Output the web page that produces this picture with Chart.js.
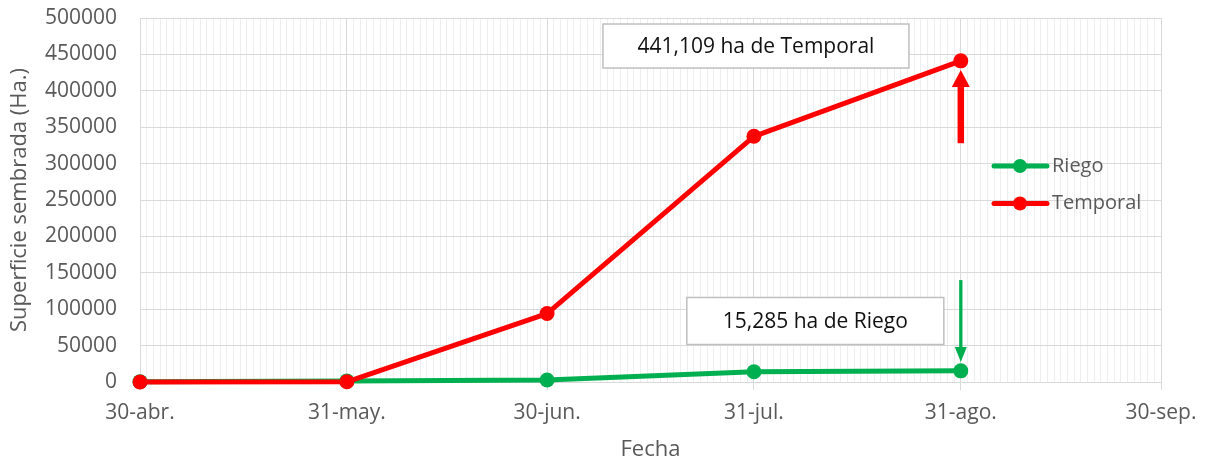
<!DOCTYPE html>
<html lang="es">
<head>
<meta charset="utf-8">
<script src="https://cdn.jsdelivr.net/npm/chart.js@4.4.0/dist/chart.umd.min.js"></script>
<style>
  html, body { margin: 0; padding: 0; background: #fff; }
  #wrap { width: 1211px; height: 463px; }
</style>
</head>
<body>
<div id="wrap"><canvas id="lineChart"></canvas></div>
<script>
// ---------------- DATOS -----------------------------
const fechas = ["2023-04-30", "2023-05-31", "2023-06-30", "2023-07-31", "2023-08-31"];
const riego = [500, 1500, 2700, 14000, 15285];
const temporal = [0, 300, 94000, 337500, 441109];

const tickFechas = ["2023-04-30", "2023-05-31", "2023-06-30", "2023-07-31", "2023-08-31", "2023-09-30"];
const tickLabels = ["30-abr.", "31-may.", "30-jun.", "31-jul.", "31-ago.", "30-sep."];
const yMax = 500000;
const yStep = 50000;

// dias desde el inicio del eje
const inicio = Date.parse(tickFechas[0]);
const dia = (s) => Math.round((Date.parse(s) - inicio) / 86400000);
const tickDias = tickFechas.map(dia);
const ultimoDia = tickDias[tickDias.length - 1];

const FONT = "'Open Sans', sans-serif";
const GRIS = "#595959";

// ---------------- ANOTACIONES -----------------------------
const flechas = [
  { fecha: "2023-08-31", desde: 328000, hasta: 428500, color: "#ff0000", ancho: 6.5, punta: 18, largo: 17 },
  { fecha: "2023-08-31", desde: 140000, hasta: 27500, color: "#00b050", ancho: 3.3, punta: 12, largo: 15 },
];
const cajas = [
  { texto: "441,109 ha de Temporal", dia: 92.3, valor: 461500, w: 306, h: 44 },
  { texto: "15,285 ha de Riego", dia: 101.2, valor: 83800, w: 257, h: 47 },
];

const anotaciones = {
  id: "anotaciones",
  afterDatasetsDraw(chart) {
    const { ctx, scales: { x, y } } = chart;
    ctx.save();
    flechas.forEach((f) => {
      const px = x.getPixelForValue(dia(f.fecha));
      const y0 = y.getPixelForValue(f.desde);
      const y1 = y.getPixelForValue(f.hasta);
      const dir = y1 < y0 ? 1 : -1;
      ctx.strokeStyle = f.color;
      ctx.fillStyle = f.color;
      ctx.lineWidth = f.ancho;
      ctx.beginPath();
      ctx.moveTo(px, y0);
      ctx.lineTo(px, y1 + dir * f.largo);
      ctx.stroke();
      ctx.beginPath();
      ctx.moveTo(px, y1);
      ctx.lineTo(px - f.punta / 2, y1 + dir * f.largo);
      ctx.lineTo(px + f.punta / 2, y1 + dir * f.largo);
      ctx.closePath();
      ctx.fill();
    });
    cajas.forEach((c) => {
      const cx = x.getPixelForValue(c.dia);
      const cy = y.getPixelForValue(c.valor);
      ctx.fillStyle = "#ffffff";
      ctx.fillRect(cx - c.w / 2, cy - c.h / 2, c.w, c.h);
      ctx.strokeStyle = "#bfbfbf";
      ctx.lineWidth = 1.5;
      ctx.strokeRect(cx - c.w / 2, cy - c.h / 2, c.w, c.h);
      ctx.fillStyle = "#111111";
      ctx.font = "21px " + FONT;
      ctx.textAlign = "center";
      ctx.textBaseline = "middle";
      ctx.fillText(c.texto, cx, cy + 1);
    });
    ctx.restore();
  },
};

// leyenda dentro del area del grafico
const leyenda = {
  id: "leyenda",
  afterDraw(chart) {
    const { ctx } = chart;
    ctx.save();
    chart.data.datasets.forEach((ds, i) => {
      const yy = 166 + i * 37.5;
      ctx.strokeStyle = ds.borderColor;
      ctx.lineWidth = 5;
      ctx.lineCap = "round";
      ctx.beginPath();
      ctx.moveTo(994, yy);
      ctx.lineTo(1047, yy);
      ctx.stroke();
      ctx.fillStyle = ds.borderColor;
      ctx.beginPath();
      ctx.arc(1020, yy, 7, 0, Math.PI * 2);
      ctx.fill();
      ctx.fillStyle = GRIS;
      ctx.font = "20px " + FONT;
      ctx.textAlign = "left";
      ctx.textBaseline = "middle";
      ctx.fillText(ds.label, 1052, yy);
    });
    ctx.restore();
  },
};

// ---------------- CHART JS -----------------------------
const lineChartData = {
  datasets: [
    {
      label: "Riego",
      data: fechas.map((f, i) => ({ x: dia(f), y: riego[i] })),
      borderColor: "#00b050",
      backgroundColor: "#00b050",
      order: 1,
    },
    {
      label: "Temporal",
      data: fechas.map((f, i) => ({ x: dia(f), y: temporal[i] })),
      borderColor: "#ff0000",
      backgroundColor: "#ff0000",
      order: 0,
    },
  ],
};

const lineChartConfig = {
  type: "line",
  data: lineChartData,
  options: {
    responsive: true,
    maintainAspectRatio: false,
    animation: false,
    layout: { padding: { top: 18, right: 50, left: 0, bottom: 0 } },
    elements: {
      line: { borderWidth: 5, tension: 0, borderJoinStyle: "round" },
      point: { radius: 7.5, hoverRadius: 7.5, borderWidth: 0 },
    },
    datasets: { line: { clip: false } },
    plugins: {
      legend: { display: false },
      tooltip: { enabled: false },
    },
    scales: {
      x: {
        type: "linear",
        min: 0,
        max: ultimoDia,
        afterBuildTicks: (scale) => {
          const t = [];
          for (let d = 0; d <= ultimoDia; d++) t.push({ value: d });
          scale.ticks = t;
        },
        afterFit: (scale) => { scale.height = 81; },
        grid: {
          color: (c) => (tickDias.includes(c.tick && c.tick.value) ? "#d9d9d9" : "#eeeeee"),
          tickColor: (c) => (tickDias.includes(c.tick && c.tick.value) ? "#d9d9d9" : "rgba(0,0,0,0)"),
          tickLength: 8,
        },
        border: { color: "#d9d9d9" },
        ticks: {
          autoSkip: false,
          maxRotation: 0,
          padding: 10,
          color: GRIS,
          font: { family: FONT, size: 21 },
          callback: (v) => {
            const k = tickDias.indexOf(v);
            return k >= 0 ? tickLabels[k] : "";
          },
        },
        title: {
          display: true,
          text: "Fecha",
          color: GRIS,
          font: { family: FONT, size: 22 },
          padding: { top: 0, bottom: 0 },
        },
      },
      y: {
        min: 0,
        max: yMax,
        afterFit: (scale) => {
          scale.width = 140;
          scale.paddingTop = 0;
          scale.paddingBottom = 0;
        },
        grid: { color: "#d9d9d9", drawTicks: false },
        border: { color: "#d9d9d9" },
        ticks: {
          stepSize: yStep,
          padding: 23,
          color: GRIS,
          font: { family: FONT, size: 21 },
          callback: (v) => String(v),
        },
        title: {
          display: true,
          text: "Superficie sembrada (Ha.)",
          color: GRIS,
          font: { family: FONT, size: 22 },
          padding: { top: 7, bottom: 0 },
        },
      },
    },
  },
  plugins: [anotaciones, leyenda],
};

// RENDER THE CHART
const lineChart = new Chart(document.getElementById("lineChart"), lineChartConfig);
</script>
</body>
</html>
